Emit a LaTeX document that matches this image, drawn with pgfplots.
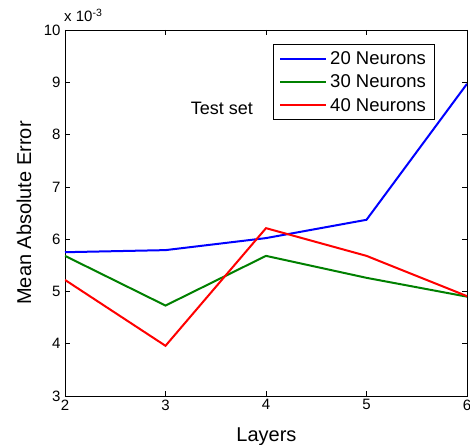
\documentclass[border=0pt]{standalone}
\usepackage{fontspec}
\setmainfont{Liberation Sans}
\usepackage{pgfplots}
\pgfplotsset{compat=1.18}

\definecolor{mblue}{rgb}{0,0,1}
\definecolor{mgreen}{rgb}{0,0.5,0}
\definecolor{mred}{rgb}{1,0,0}

\begin{document}
\begin{tikzpicture}
\begin{axis}[
    name=ax,
    scale only axis,
    width=402pt,
    height=366pt,
    xmin=2, xmax=6,
    ymin=0.003, ymax=0.01,
    xtick={2,3,4,5,6},
    ytick={0.003,0.004,0.005,0.006,0.007,0.008,0.009,0.01},
    scaled y ticks=base 10:3,
    ytick scale label code/.code={x 10\textsuperscript{-3}},
    every y tick scale label/.style={at={(rel axis cs:0,1)}, anchor=base west, inner sep=0pt, yshift=8pt,
        font=\fontsize{15}{17}\selectfont},
    /pgf/number format/assume math mode=true,
    tick label style={font=\fontsize{15}{18}\selectfont},
    yticklabel style={xshift=-1pt},
    tick align=inside,
    tick pos=both,
    major tick length=5pt,
    tick style={black, line width=0.6pt},
    axis line style={line width=0.9pt},
    xlabel={Layers},
    ylabel={Mean Absolute Error},
    label style={font=\fontsize{20}{24}\selectfont},
    xlabel style={at={(axis description cs:0.501,-0.123)}, anchor=base},
    ylabel style={at={(axis description cs:-0.102,0.5)}, anchor=center},
    legend style={at={(0.517,0.962)}, anchor=north west, draw=black, line width=0.8pt,
        font=\fontsize{18.5}{22}\selectfont, inner xsep=6pt, inner ysep=4pt,
        row sep=3pt, nodes={inner sep=3pt}},
    legend cell align=left,
    legend image code/.code={\draw[#1] (0pt,0pt) -- (46pt,0pt);},
]
\addplot[mblue, line width=2pt] coordinates {
    (2,0.00575) (3,0.00579) (4,0.00602) (5,0.00637) (6,0.00897)
};
\addplot[mgreen, line width=2pt] coordinates {
    (2,0.00568) (3,0.00473) (4,0.00568) (5,0.00526) (6,0.00490)
};
\addplot[mred, line width=2pt] coordinates {
    (2,0.00522) (3,0.00396) (4,0.00621) (5,0.00568) (6,0.00491)
};
\legend{20 Neurons, 30 Neurons, 40 Neurons}
\node[font=\fontsize{18}{21}\selectfont] at (rel axis cs:0.39,0.787) {Test set};
\end{axis}
\pgfresetboundingbox
\path[use as bounding box] ([shift={(-65pt,-49pt)}]ax.south west) rectangle ([shift={(3pt,30pt)}]ax.north east);
\end{tikzpicture}
\end{document}
